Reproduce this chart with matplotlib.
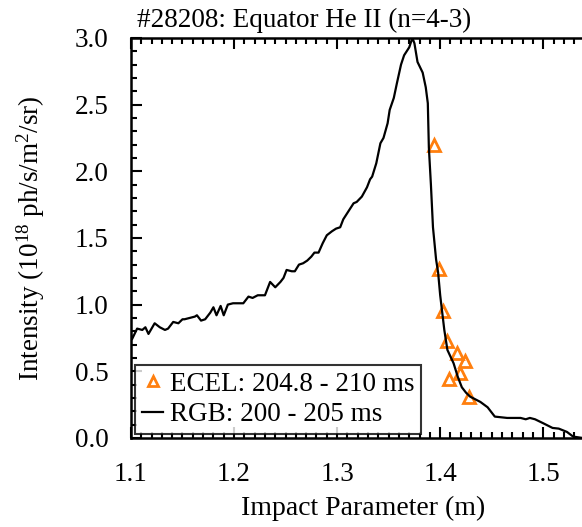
import numpy as np
import matplotlib
matplotlib.use('Agg')
import matplotlib.pyplot as plt
from matplotlib.ticker import MultipleLocator, FormatStrFormatter

plt.rcParams['font.family'] = ['Liberation Serif', 'DejaVu Serif']
plt.rcParams['mathtext.fontset'] = 'custom'
plt.rcParams['mathtext.rm'] = 'Liberation Serif'
plt.rcParams['mathtext.it'] = 'Liberation Serif:italic'

# RGB profile (200 - 205 ms)
rgb_r = [1.100, 1.101, 1.106, 1.111, 1.114, 1.117, 1.123, 1.128, 1.133, 1.136,
         1.141, 1.146, 1.150, 1.152, 1.157, 1.162, 1.164, 1.168, 1.172, 1.177,
         1.180, 1.183, 1.187, 1.190, 1.194, 1.199, 1.204, 1.209, 1.214, 1.218,
         1.223, 1.230, 1.235, 1.240, 1.245, 1.248, 1.251, 1.256, 1.259, 1.263,
         1.267, 1.271, 1.275, 1.278, 1.282, 1.286, 1.290, 1.295, 1.299, 1.303,
         1.306, 1.311, 1.316, 1.319, 1.324, 1.329, 1.332, 1.334, 1.338, 1.342,
         1.345, 1.349, 1.351, 1.355, 1.358, 1.362, 1.365, 1.370, 1.373, 1.375,
         1.378, 1.383, 1.386, 1.388, 1.389, 1.391, 1.393, 1.396, 1.398, 1.400,
         1.402, 1.404, 1.407, 1.410, 1.413, 1.417, 1.421, 1.425, 1.429, 1.439,
         1.446, 1.453, 1.465, 1.478, 1.483, 1.487, 1.492, 1.500, 1.509, 1.515,
         1.523, 1.529, 1.538]
rgb_i = [0.78, 0.74, 0.82, 0.81, 0.83, 0.78, 0.86, 0.83, 0.81, 0.82,
         0.87, 0.86, 0.89, 0.89, 0.90, 0.91, 0.92, 0.88, 0.89, 0.94,
         0.98, 0.92, 0.99, 0.92, 1.00, 1.01, 1.01, 1.01, 1.06, 1.05,
         1.07, 1.07, 1.17, 1.13, 1.17, 1.20, 1.26, 1.25, 1.25, 1.30,
         1.31, 1.33, 1.36, 1.39, 1.39, 1.46, 1.52, 1.55, 1.57, 1.58,
         1.64, 1.70, 1.76, 1.77, 1.81, 1.88, 1.94, 1.96, 2.06, 2.21,
         2.25, 2.36, 2.46, 2.55, 2.66, 2.80, 2.87, 2.93, 3.00, 2.96,
         2.82, 2.74, 2.63, 2.51, 2.18, 1.90, 1.58, 1.34, 1.24, 1.07,
         0.94, 0.81, 0.66, 0.61, 0.56, 0.46, 0.38, 0.34, 0.31, 0.27,
         0.23, 0.16, 0.15, 0.15, 0.14, 0.15, 0.14, 0.11, 0.075, 0.07,
         0.045, 0.01, 0.0]

# ECEL points (204.8 - 210 ms)
ecel_r = [1.394, 1.399, 1.403, 1.407, 1.416, 1.424, 1.419, 1.409, 1.428]
ecel_i = [2.20, 1.27, 0.95, 0.73, 0.64, 0.58, 0.49, 0.44, 0.31]

fig = plt.figure(figsize=(5.82, 5.27), dpi=100)
ax = fig.add_axes([0.225, 0.169, 0.797, 0.759])

ax.plot(ecel_r, ecel_i, linestyle='none', marker='^', markersize=9,
        markerfacecolor='none', markeredgecolor='#ff7f0e', markeredgewidth=2,
        label='ECEL: 204.8 - 210 ms')
ax.plot(rgb_r, rgb_i, color='black', linewidth=1.6, label='RGB: 200 - 205 ms')

ax.set_xlim(1.1, 1.55)
ax.set_ylim(0.0, 3.0)
ax.xaxis.set_major_locator(MultipleLocator(0.1))
ax.xaxis.set_minor_locator(MultipleLocator(0.01))
ax.yaxis.set_major_locator(MultipleLocator(0.5))
ax.yaxis.set_minor_locator(MultipleLocator(0.1))
ax.xaxis.set_major_formatter(FormatStrFormatter('%.1f'))
ax.yaxis.set_major_formatter(FormatStrFormatter('%.1f'))
ax.tick_params(which='both', direction='in', top=True, right=True,
               width=1.5, labelsize=19.5)
ax.tick_params(which='major', length=8)
ax.tick_params(which='minor', length=4)
ax.tick_params(axis='x', which='major', pad=17)
ax.tick_params(axis='y', which='major', pad=16)
for s in ax.spines.values():
    s.set_linewidth(1.8)

ax.set_xlabel('Impact Parameter (m)', fontsize=20, labelpad=7)
ax.set_ylabel(r'Intensity (10$^{18}$ ph/s/m$^{2}$/sr)', fontsize=19.5,
              labelpad=20)
ax.text(0.012, 1.012, '#28208: Equator He II (n=4-3)', transform=ax.transAxes,
        fontsize=19.5, ha='left', va='bottom')

leg = ax.legend(loc='lower left', fontsize=19.5, frameon=True, fancybox=False,
                handlelength=0.8, handletextpad=0.25, borderpad=0.25,
                labelspacing=0.2, borderaxespad=0.15, markerscale=0.8)
leg.get_frame().set_edgecolor('black')
leg.get_frame().set_linewidth(1.5)

fig.savefig('out.png', dpi=100)
